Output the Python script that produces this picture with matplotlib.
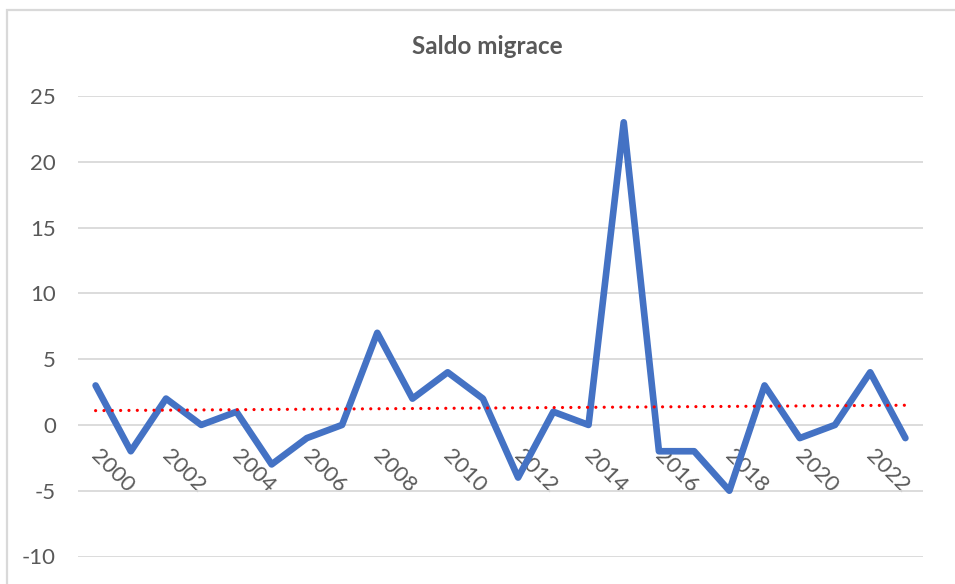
import numpy as np
import matplotlib.pyplot as plt
from matplotlib.patches import Rectangle
from matplotlib.transforms import ScaledTranslation

# Saldo migrace po letech
years = np.arange(2000, 2024)
saldo = np.array([3, -2, 2, 0, 1, -3, -1, 0, 7, 2, 4, 2,
                  -4, 1, 0, 23, -2, -2, -5, 3, -1, 0, 4, -1])
yticks = [-10, -5, 0, 5, 10, 15, 20, 25]
xticks = years[::2]

plt.rcParams['font.family'] = ['Lato', 'DejaVu Sans']
plt.rcParams['axes.unicode_minus'] = False
grey = '#595959'

W, H = 955, 584
fig = plt.figure(figsize=(W / 100, H / 100), dpi=100)
ax = fig.add_axes([78 / W, 1 - 556.5 / H, (923 - 78) / W, (556.5 - 96) / H])

# ramecek grafu
fig.patches.append(Rectangle((7 / W, -0.1), 1.2, 1.1 - 10 / H, transform=fig.transFigure,
                             fill=False, edgecolor='#d9d9d9', lw=1.6, zorder=0))

ax.plot(years, saldo, color='#4472C4', lw=4.8, solid_joinstyle='round',
        solid_capstyle='round', zorder=3)

# linearni trend
p = np.polyfit(years, saldo, 1)
ax.plot(years, np.polyval(p, years), color='#FF0000', lw=2.3,
        linestyle=(0, (0.01, 2.6)), dash_capstyle='round', zorder=4)

ax.set_xlim(years[0] - 0.5, years[-1] + 0.5)
ax.set_ylim(-10, 25)
ax.set_yticks(yticks)
ax.set_xticks(xticks)
ax.grid(axis='y', color='#d9d9d9', lw=1.3)
ax.set_axisbelow(True)
for s in ax.spines.values():
    s.set_visible(False)
ax.spines['bottom'].set_position(('data', 0))

ax.tick_params(axis='y', length=0, pad=16, labelsize=16, labelcolor=grey)
ax.tick_params(axis='x', length=0, pad=15, labelsize=16, labelcolor=grey)
shift = ScaledTranslation(6 / 100, 0, fig.dpi_scale_trans)
for lab in ax.get_xticklabels():
    lab.set_rotation(-45)
    lab.set_ha('left')
    lab.set_va('top')
    lab.set_rotation_mode('anchor')
    lab.set_transform(lab.get_transform() + shift)

fig.text(487 / W, 1 - 47 / H, 'Saldo migrace', ha='center', va='center',
         fontsize=17.5, fontweight='bold', color=grey)

fig.savefig('out.png', dpi=100)
